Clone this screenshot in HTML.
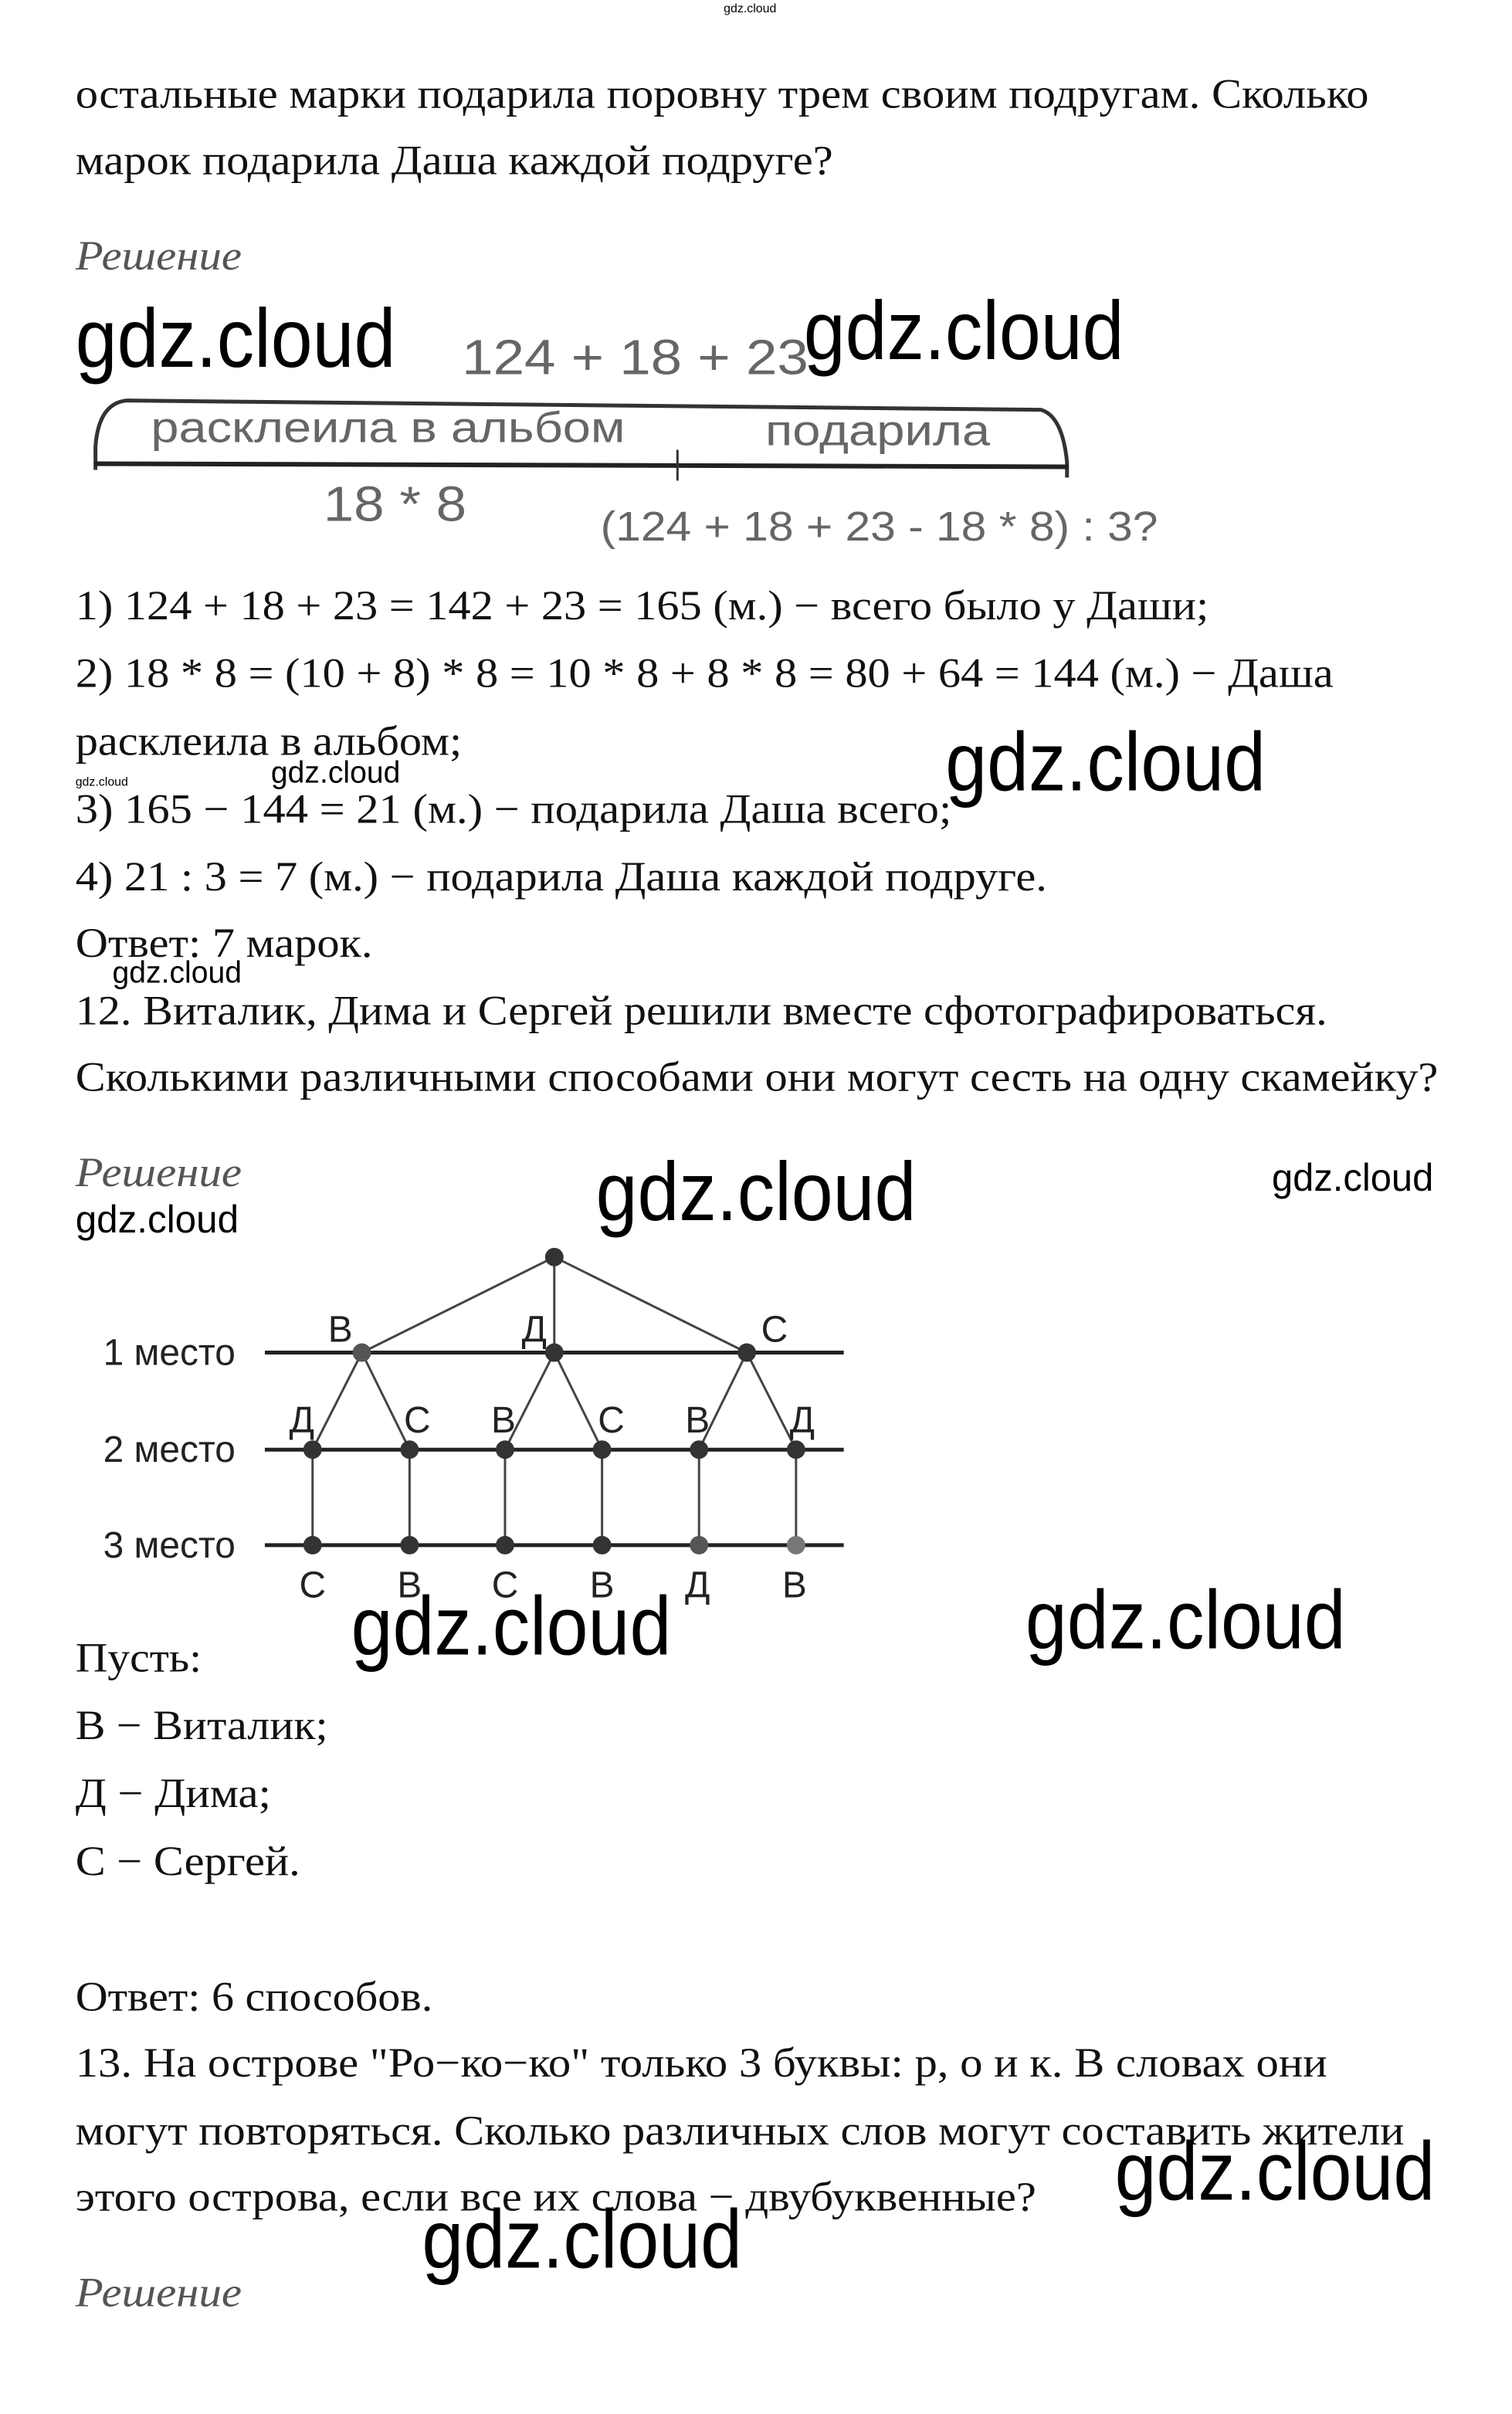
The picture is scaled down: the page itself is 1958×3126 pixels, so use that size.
<!DOCTYPE html>
<html><head><meta charset="utf-8"><style>
html,body{margin:0;padding:0;background:#fff;}
svg{display:block}
.t{font-family:"Liberation Serif",serif;font-size:27px;fill:#111}
.r{font-family:"Liberation Serif",serif;font-style:italic;font-size:27px;fill:#555}
.g{font-family:"Liberation Sans",sans-serif;font-size:54px;fill:#000}
.gs{font-family:"Liberation Sans",sans-serif;fill:#000}
.d{font-family:"Liberation Sans",sans-serif;fill:#666}
.k{font-family:"Liberation Sans",sans-serif;font-size:24px;fill:#222}
</style></head><body>
<svg width="1958" height="3126" viewBox="0 0 982 1567" preserveAspectRatio="none" xmlns="http://www.w3.org/2000/svg">
<text x="470" y="8" class="gs" font-size="8" fill="#88a">gdz.cloud</text>
<text x="49" y="70" class="t" textLength="840" lengthAdjust="spacingAndGlyphs">остальные марки подарила поровну трем своим подругам. Сколько</text>
<text x="49" y="113" class="t" textLength="492" lengthAdjust="spacingAndGlyphs">марок подарила Даша каждой подруге?</text>
<text x="49" y="175" class="r" textLength="108" lengthAdjust="spacingAndGlyphs">Решение</text>

<text x="300" y="243" class="d" font-size="32" textLength="225" lengthAdjust="spacingAndGlyphs">124 + 18 + 23</text>
<path d="M62,305 L62,290 Q64,262 82,260 L676,266 Q690,270 693,300 L693,310" fill="none" stroke="#333" stroke-width="2.5"/>
<line x1="61" y1="301" x2="694" y2="303" stroke="#222" stroke-width="3"/>
<line x1="440" y1="292" x2="440" y2="312" stroke="#333" stroke-width="1.5"/>
<text x="98" y="287" class="d" font-size="28" textLength="308" lengthAdjust="spacingAndGlyphs">расклеила в альбом</text>
<text x="497" y="289" class="d" font-size="28" textLength="146" lengthAdjust="spacingAndGlyphs">подарила</text>
<text x="210" y="338" class="d" font-size="32" textLength="93" lengthAdjust="spacingAndGlyphs">18 * 8</text>
<text x="390" y="351" class="d" font-size="27" textLength="362" lengthAdjust="spacingAndGlyphs">(124 + 18 + 23 - 18 * 8) : 3?</text>
<text x="49" y="238" class="g" textLength="208" lengthAdjust="spacingAndGlyphs">gdz.cloud</text>
<text x="522" y="233" class="g" textLength="208" lengthAdjust="spacingAndGlyphs">gdz.cloud</text>

<text x="49" y="402" class="t" textLength="736" lengthAdjust="spacingAndGlyphs">1) 124 + 18 + 23 = 142 + 23 = 165 (м.) − всего было у Даши;</text>
<text x="49" y="446" class="t" textLength="817" lengthAdjust="spacingAndGlyphs">2) 18 * 8 = (10 + 8) * 8 = 10 * 8 + 8 * 8 = 80 + 64 = 144 (м.) − Даша</text>
<text x="49" y="490" class="t" textLength="251" lengthAdjust="spacingAndGlyphs">расклеила в альбом;</text>
<text x="49" y="510" class="gs" font-size="8">gdz.cloud</text>
<text x="176" y="508" class="gs" font-size="20" textLength="84" lengthAdjust="spacingAndGlyphs">gdz.cloud</text>
<text x="614" y="513" class="g" textLength="208" lengthAdjust="spacingAndGlyphs">gdz.cloud</text>
<text x="49" y="534" class="t" textLength="569" lengthAdjust="spacingAndGlyphs">3) 165 − 144 = 21 (м.) − подарила Даша всего;</text>
<text x="49" y="578" class="t" textLength="631" lengthAdjust="spacingAndGlyphs">4) 21 : 3 = 7 (м.) − подарила Даша каждой подруге.</text>
<text x="49" y="621" class="t" textLength="193" lengthAdjust="spacingAndGlyphs">Ответ: 7 марок.</text>
<text x="73" y="638" class="gs" font-size="20" textLength="84" lengthAdjust="spacingAndGlyphs">gdz.cloud</text>
<text x="49" y="665" class="t" textLength="813" lengthAdjust="spacingAndGlyphs">12. Виталик, Дима и Сергей решили вместе сфотографироваться.</text>
<text x="49" y="708" class="t" textLength="885" lengthAdjust="spacingAndGlyphs">Сколькими различными способами они могут сесть на одну скамейку?</text>
<text x="49" y="770" class="r" textLength="108" lengthAdjust="spacingAndGlyphs">Решение</text>
<text x="49" y="800" class="gs" font-size="25" textLength="106" lengthAdjust="spacingAndGlyphs">gdz.cloud</text>
<text x="387" y="792" class="g" textLength="208" lengthAdjust="spacingAndGlyphs">gdz.cloud</text>
<text x="826" y="773" class="gs" font-size="25" textLength="105" lengthAdjust="spacingAndGlyphs">gdz.cloud</text>

<g stroke="#222" stroke-width="2.5">
<line x1="172" y1="878" x2="548" y2="878"/>
<line x1="172" y1="941" x2="548" y2="941"/>
<line x1="172" y1="1003" x2="548" y2="1003"/>
</g>
<g stroke="#444" stroke-width="1.5">
<line x1="360" y1="816" x2="235" y2="878"/>
<line x1="360" y1="816" x2="360" y2="878"/>
<line x1="360" y1="816" x2="485" y2="878"/>
<line x1="235" y1="878" x2="203" y2="941"/><line x1="235" y1="878" x2="266" y2="941"/>
<line x1="360" y1="878" x2="328" y2="941"/><line x1="360" y1="878" x2="391" y2="941"/>
<line x1="485" y1="878" x2="454" y2="941"/><line x1="485" y1="878" x2="517" y2="941"/>
<line x1="203" y1="941" x2="203" y2="1003"/><line x1="266" y1="941" x2="266" y2="1003"/>
<line x1="328" y1="941" x2="328" y2="1003"/><line x1="391" y1="941" x2="391" y2="1003"/>
<line x1="454" y1="941" x2="454" y2="1003"/><line x1="517" y1="941" x2="517" y2="1003"/>
</g>
<g fill="#333">
<circle cx="360" cy="816" r="6"/>
<circle cx="235" cy="878" r="6" fill="#555"/><circle cx="360" cy="878" r="6"/><circle cx="485" cy="878" r="6"/>
<circle cx="203" cy="941" r="6"/><circle cx="266" cy="941" r="6"/><circle cx="328" cy="941" r="6"/>
<circle cx="391" cy="941" r="6"/><circle cx="454" cy="941" r="6"/><circle cx="517" cy="941" r="6"/>
<circle cx="203" cy="1003" r="6"/><circle cx="266" cy="1003" r="6"/><circle cx="328" cy="1003" r="6"/>
<circle cx="391" cy="1003" r="6"/><circle cx="454" cy="1003" r="6" fill="#555"/><circle cx="517" cy="1003" r="6" fill="#777"/>
</g>
<text x="67" y="886" class="k">1 место</text>
<text x="67" y="949" class="k">2 место</text>
<text x="67" y="1011" class="k">3 место</text>
<g class="k" text-anchor="middle">
<text x="221" y="871">В</text><text x="347" y="871">Д</text><text x="503" y="871">С</text>
<text x="196" y="930">Д</text><text x="271" y="930">С</text><text x="327" y="930">В</text>
<text x="397" y="930">С</text><text x="453" y="930">В</text><text x="521" y="930">Д</text>
<text x="203" y="1037">С</text><text x="266" y="1037">В</text><text x="328" y="1037">С</text>
<text x="391" y="1037">В</text><text x="453" y="1037">Д</text><text x="516" y="1037">В</text>
</g>
<text x="228" y="1074" class="g" textLength="208" lengthAdjust="spacingAndGlyphs">gdz.cloud</text>
<text x="666" y="1070" class="g" textLength="208" lengthAdjust="spacingAndGlyphs">gdz.cloud</text>

<text x="49" y="1085" class="t" textLength="82" lengthAdjust="spacingAndGlyphs">Пусть:</text>
<text x="49" y="1129" class="t" textLength="164" lengthAdjust="spacingAndGlyphs">В − Виталик;</text>
<text x="49" y="1173" class="t" textLength="127" lengthAdjust="spacingAndGlyphs">Д − Дима;</text>
<text x="49" y="1217" class="t" textLength="146" lengthAdjust="spacingAndGlyphs">С − Сергей.</text>
<text x="49" y="1305" class="t" textLength="232" lengthAdjust="spacingAndGlyphs">Ответ: 6 способов.</text>
<text x="49" y="1348" class="t" textLength="813" lengthAdjust="spacingAndGlyphs">13. На острове "Ро−ко−ко" только 3 буквы: р, о и к. В словах они</text>
<text x="49" y="1392" class="t" textLength="863" lengthAdjust="spacingAndGlyphs">могут повторяться. Сколько различных слов могут составить жители</text>
<text x="49" y="1435" class="t" textLength="624" lengthAdjust="spacingAndGlyphs">этого острова, если все их слова − двубуквенные?</text>
<text x="724" y="1428" class="g" textLength="208" lengthAdjust="spacingAndGlyphs">gdz.cloud</text>
<text x="274" y="1472" class="g" textLength="208" lengthAdjust="spacingAndGlyphs">gdz.cloud</text>
<text x="49" y="1497" class="r" textLength="108" lengthAdjust="spacingAndGlyphs">Решение</text>
</svg>
</body></html>
